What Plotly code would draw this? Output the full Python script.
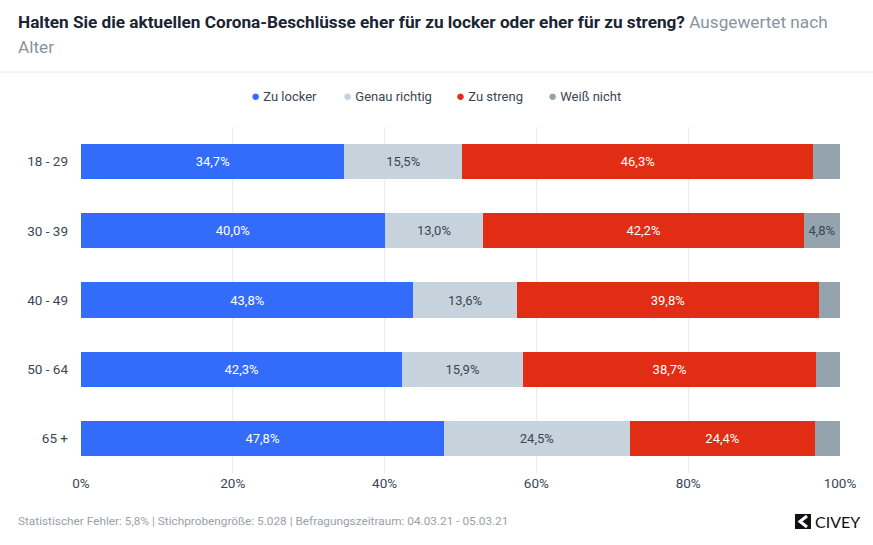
import plotly.graph_objects as go

categories = ["18 - 29", "30 - 39", "40 - 49", "50 - 64", "65 +"]
series_names = ["Zu locker", "Genau richtig", "Zu streng", "Weiß nicht"]
zu_locker = [34.7, 40.0, 43.8, 42.3, 47.8]
genau_richtig = [15.5, 13.0, 13.6, 15.9, 24.5]
zu_streng = [46.3, 42.2, 39.8, 38.7, 24.4]
weiss_nicht = [3.5, 4.8, 2.8, 3.1, 3.3]
x_ticks = [0, 20, 40, 60, 80, 100]
x_tick_labels = ["0%", "20%", "40%", "60%", "80%", "100%"]

colors = ["#336bfa", "#c6d2dc", "#e02d14", "#95a3af"]
text_colors = ["#ffffff", "#3a4654", "#ffffff", "#3a4654"]
min_label = [0, 0, 0, 4.0]

FONT = "Roboto, Arial, sans-serif"

fig = go.Figure()
for name, vals, c, tc, mn in zip(series_names, [zu_locker, genau_richtig, zu_streng, weiss_nicht],
                                  colors, text_colors, min_label):
    labels = [(f"{v:.1f}%".replace(".", ",") if v >= mn else "") for v in vals]
    fig.add_trace(go.Bar(
        y=categories, x=vals, name=name, orientation="h",
        marker=dict(color=c, line=dict(width=0)),
        text=labels, textposition="inside", insidetextanchor="middle",
        textfont=dict(color=tc, size=13, family=FONT),
        hoverinfo="skip", showlegend=False,
    ))

W, H = 873, 545
ml, mr, mt, mb = 81, 33, 127, 72
pw, ph = W - ml - mr, H - mt - mb

def px(x):
    return (x - ml) / pw

def py(y):
    return 1 - (y - mt) / ph

fig.update_layout(
    width=W, height=H,
    barmode="stack", bargap=0.49,
    margin=dict(l=ml, r=mr, t=mt, b=mb),
    paper_bgcolor="white", plot_bgcolor="white",
    font=dict(family=FONT, color="#3a4654"),
    showlegend=False,
    xaxis=dict(range=[0, 100], tickvals=x_ticks, ticktext=x_tick_labels,
               showgrid=True, gridcolor="#ececec", gridwidth=1, zeroline=False,
               tickfont=dict(size=13.5, color="#3a4654"), ticks="", ticklen=0,
               fixedrange=True),
    yaxis=dict(categoryorder="array", categoryarray=categories[::-1],
               tickfont=dict(size=13.5, color="#3a4654"), ticks="", ticklabelstandoff=12,
               showgrid=False, fixedrange=True),
)

# Legend (dot + label), laid out like the reference
legend_x = [249, 341, 454, 546]
for name, c, lx in zip(series_names, colors, legend_x):
    fig.add_annotation(
        xref="paper", yref="paper", x=px(lx), y=py(95.5),
        xanchor="left", yanchor="middle", showarrow=False,
        text=f"<span style='color:{c};font-size:15px'>●</span> {name}",
        font=dict(size=13, color="#3a4654", family=FONT),
    )

# Title (two lines)
fig.add_annotation(
    xref="paper", yref="paper", x=px(16), y=py(22),
    xanchor="left", yanchor="middle", align="left", showarrow=False,
    text="<b>Halten Sie die aktuellen Corona-Beschlüsse eher für zu locker oder eher für zu streng?</b>"
         "<span style='color:#8a939c'> Ausgewertet nach</span>",
    font=dict(size=17.2, color="#1a2433", family=FONT),
)
fig.add_annotation(
    xref="paper", yref="paper", x=px(16), y=py(47),
    xanchor="left", yanchor="middle", align="left", showarrow=False,
    text="Alter",
    font=dict(size=17.2, color="#8a939c", family=FONT),
)
# separator line
fig.add_shape(type="line", xref="paper", yref="paper",
              x0=px(0), x1=px(W), y0=py(72), y1=py(72),
              line=dict(color="#e6e6e6", width=1))
# footer
fig.add_annotation(
    xref="paper", yref="paper", x=px(16), y=py(521),
    xanchor="left", yanchor="middle", showarrow=False,
    text="Statistischer Fehler: 5,8% | Stichprobengröße: 5.028 | Befragungszeitraum: 04.03.21 - 05.03.21",
    font=dict(size=11.8, color="#9aa1a8", family=FONT),
)
# logo
fig.add_shape(type="rect", xref="paper", yref="paper",
              x0=px(795), x1=px(811), y0=py(529), y1=py(514),
              fillcolor="#111111", line=dict(width=0))
fig.add_shape(type="path", xref="paper", yref="paper",
              path=f"M {px(807)},{py(516)} L {px(800)},{py(521.5)} L {px(807)},{py(527)}",
              line=dict(color="white", width=3))
fig.add_annotation(
    xref="paper", yref="paper", x=px(813), y=py(521.5),
    xanchor="left", yanchor="middle", showarrow=False,
    text="CIVEY", font=dict(size=16, color="#111111", family="Lato, Arial, sans-serif"),
)

fig.write_html("out.html")
